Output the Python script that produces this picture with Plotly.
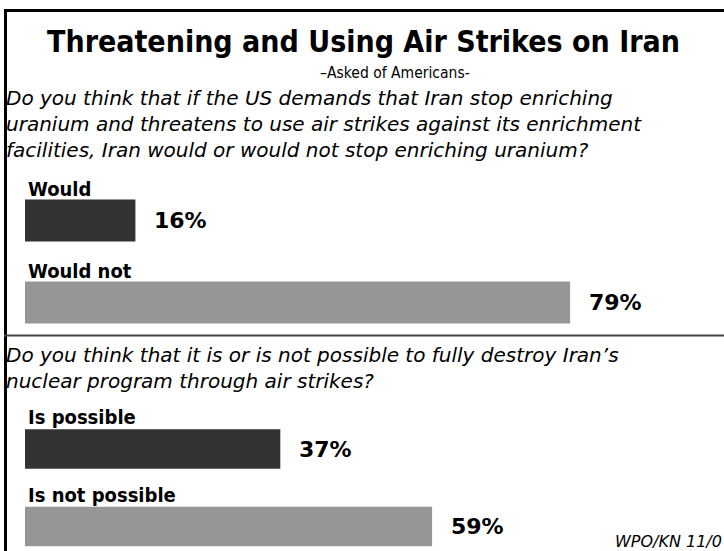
import plotly.graph_objects as go

W, H = 724, 551

title = "Threatening and Using Air Strikes on Iran"
subtitle = "\u2013Asked of Americans-"
q1_lines = ["Do you think that if the US demands that Iran stop enriching",
            "uranium and threatens to use air strikes against its enrichment",
            "facilities, Iran would or would not stop enriching uranium?"]
q2_lines = ["Do you think that it is or is not possible to fully destroy Iran\u2019s",
            "nuclear program through air strikes?"]
source = "WPO/KN 11/0"

cats1 = ["Would", "Would not"]
vals1 = [16, 79]
cats2 = ["Is possible", "Is not possible"]
vals2 = [37, 59]
colors = ["#333333", "#969696"]

FONT_C = "DejaVu Sans Condensed, Liberation Sans Narrow, sans-serif"
FONT = "DejaVu Sans, sans-serif"

def px(x):
    return x / W

def py(y):
    return 1 - y / H

fig = go.Figure()
fig.add_trace(go.Bar(x=vals1, y=cats1, orientation="h", marker_color=colors,
                     marker_line_width=0, xaxis="x", yaxis="y", hoverinfo="skip"))
fig.add_trace(go.Bar(x=vals2, y=cats2, orientation="h", marker_color=colors,
                     marker_line_width=0, xaxis="x2", yaxis="y2", hoverinfo="skip"))

x0, x100 = 25, 715
xdom = [px(x0), px(x100)]
c1a, c1b = 220.5, 302.5
s1 = c1b - c1a
top1, bot1 = c1a - s1 / 2, c1b + s1 / 2
c2a, c2b = 449, 526.5
s2 = c2b - c2a
top2 = c2a - s2 / 2
r2_bottom = -0.5 + (H - top2) / s2

common_x = dict(range=[0, 100], showgrid=False, zeroline=False, showticklabels=False,
                showline=False, fixedrange=True)
common_y = dict(showgrid=False, zeroline=False, showticklabels=False, showline=False,
                fixedrange=True, type="category")

fig.update_layout(
    width=W, height=H,
    margin=dict(l=0, r=0, t=0, b=0),
    paper_bgcolor="white", plot_bgcolor="white",
    showlegend=False, bargap=0.49,
    xaxis=dict(domain=xdom, anchor="y", **common_x),
    yaxis=dict(domain=[py(bot1), py(top1)], range=[1.5, -0.5], anchor="x", **common_y),
    xaxis2=dict(domain=xdom, anchor="y2", **common_x),
    yaxis2=dict(domain=[0, py(top2)], range=[r2_bottom, -0.5], anchor="x2", **common_y),
)

ann = []
ann.append(dict(text="<b>" + title + "</b>", x=px(363), y=py(42), xref="paper", yref="paper",
                xanchor="center", yanchor="middle", showarrow=False,
                font=dict(family=FONT_C, size=30, color="black")))
ann.append(dict(text=subtitle, x=px(395), y=py(73.5), xref="paper", yref="paper",
                xanchor="center", yanchor="middle", showarrow=False,
                font=dict(family=FONT_C, size=15.5, color="black")))
ann.append(dict(text="<i>" + "<br>".join(q1_lines) + "</i>", x=px(4), y=py(124),
                xref="paper", yref="paper", xanchor="left", yanchor="middle", align="left",
                showarrow=False, font=dict(family=FONT, size=20, color="black")))
ann.append(dict(text="<i>" + "<br>".join(q2_lines) + "</i>", x=px(4), y=py(368),
                xref="paper", yref="paper", xanchor="left", yanchor="middle", align="left",
                showarrow=False, font=dict(family=FONT, size=20, color="black")))
ann.append(dict(text="<i>" + source + "</i>", x=px(723.5), y=py(541), xref="paper", yref="paper",
                xanchor="right", yanchor="middle", showarrow=False,
                font=dict(family=FONT, size=16, color="black")))

for cats, vals, xr, yr in [(cats1, vals1, "x", "y"), (cats2, vals2, "x2", "y2")]:
    for c, v in zip(cats, vals):
        ann.append(dict(text="<b>" + c + "</b>", x=0, y=c, xref=xr, yref=yr,
                        xanchor="left", yanchor="bottom", yshift=18, xshift=1,
                        showarrow=False, font=dict(family=FONT_C, size=20, color="black")))
        ann.append(dict(text="<b>" + str(v) + "%</b>", x=v, y=c, xref=xr, yref=yr,
                        xanchor="left", yanchor="middle", xshift=17,
                        showarrow=False, font=dict(family=FONT, size=22, color="black")))
fig.update_layout(annotations=ann)

shapes = [
    dict(type="line", xref="paper", yref="paper", x0=px(5.5), x1=px(5.5), y0=py(9), y1=0,
         line=dict(color="black", width=3)),
    dict(type="line", xref="paper", yref="paper", x0=px(4), x1=1, y0=py(10.5), y1=py(10.5),
         line=dict(color="black", width=3)),
    dict(type="line", xref="paper", yref="paper", x0=px(4), x1=1, y0=py(335.5), y1=py(335.5),
         line=dict(color="#444444", width=2)),
]
fig.update_layout(shapes=shapes)

fig.write_html("out.html", config={"displayModeBar": False},
               post_script="document.body.style.margin='0';")
